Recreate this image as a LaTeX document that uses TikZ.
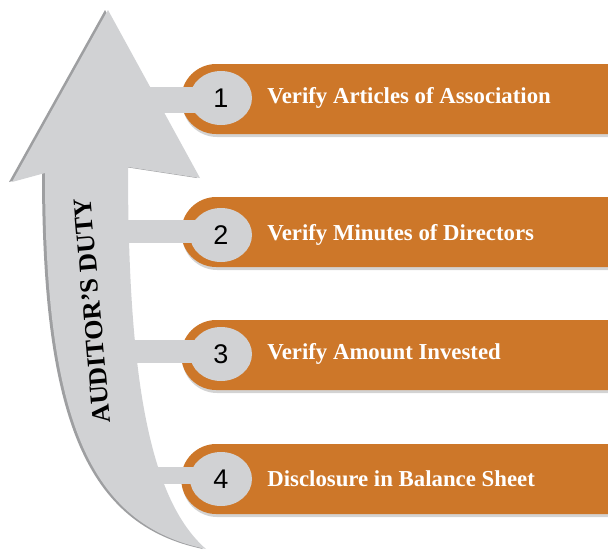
\documentclass[tikz,border=0pt]{standalone}
\usepackage{fontspec}
\setmainfont{Liberation Serif}
\newfontfamily\numfont{Liberation Sans}
\usetikzlibrary{shapes.geometric, shapes.misc, shadows, positioning}
\definecolor{dutyorange}{RGB}{205,119,41}
\definecolor{dutygray}{RGB}{209,210,212}
\definecolor{dutyshade}{RGB}{158,159,161}
\pgfdeclarelayer{bandlayer}
\pgfdeclarelayer{linklayer}
\pgfsetlayers{bandlayer,linklayer,main}

\begin{document}
\begin{tikzpicture}[
        x=1pt, y=-1pt,
        band/.style={rounded rectangle, rounded rectangle right arc=none, fill=dutyorange, minimum width=440pt, minimum height=70pt, inner sep=0pt, anchor=west, drop shadow={shadow xshift=1pt, shadow yshift=-3pt, opacity=0.35}},
        num/.style={ellipse, fill=dutygray, minimum width=62pt, minimum height=54pt, inner sep=0pt, font=\numfont\fontsize{27}{30}\selectfont},
        itemtext/.style={text=white, font=\bfseries\fontsize{22.8}{26}\selectfont, inner sep=2pt},
        link/.style={dutygray, line width=#1},
        link/.default=23pt
    ]
    \useasboundingbox (0,0) rectangle (608,550);

    % Bands
    \begin{pgfonlayer}{bandlayer}
    \node[band] (band1) at (181,99) {};
    \node[band] (band2) at (181,232) {};
    \node[band] (band3) at (181,355) {};
    \node[band] (band4) at (181,479) {};
    \end{pgfonlayer}

    % Numbers
    \node[num] (num1) at (221,98) {1};
    \node[num] (num2) at (221,235) {2};
    \node[num] (num3) at (221,354) {3};
    \node[num] (num4) at (221,479) {4};

    % Steps
    \node[itemtext, right=13pt of num1] (step1) {Verify Articles of Association};
    \node[itemtext, right=13pt of num2] (step2) {Verify Minutes of Directors};
    \node[itemtext, right=13pt of num3] (step3) {Verify Amount Invested};
    \node[itemtext, right=13pt of num4] (step4) {Disclosure in Balance Sheet};

    % Arrow
    \begin{pgfonlayer}{linklayer}
    \fill[dutyshade, xshift=-3pt] (108,10) -- (200,178) -- (128,167)
        .. controls (128,380) and (150,500) .. (206,549)
        .. controls (90,525) and (45,420) .. (45,173) -- (12,182) -- cycle;
    \fill[dutygray] (108,10) -- (200,178) -- (128,167)
        .. controls (128,380) and (150,500) .. (206,549)
        .. controls (90,525) and (45,420) .. (45,173) -- (12,182) -- cycle;
    \coordinate (s1) at (120,100);
    \coordinate (s2) at (110,231);
    \coordinate (s3) at (115,351);
    \coordinate (s4) at (130,475);
    \draw[link=26pt] (s1) -- (s1 -| num1.center);
    \draw[link] (s2) -- (s2 -| num2.center);
    \draw[link] (s3) -- (s3 -| num3.center);
    \draw[link=17pt] (s4) -- (s4 -| num4.center);
    \end{pgfonlayer}

    \node[rotate=95, font=\bfseries\fontsize{26}{30}\selectfont] (duty) at (92,311) {AUDITOR’S DUTY};
\end{tikzpicture}
\end{document}
